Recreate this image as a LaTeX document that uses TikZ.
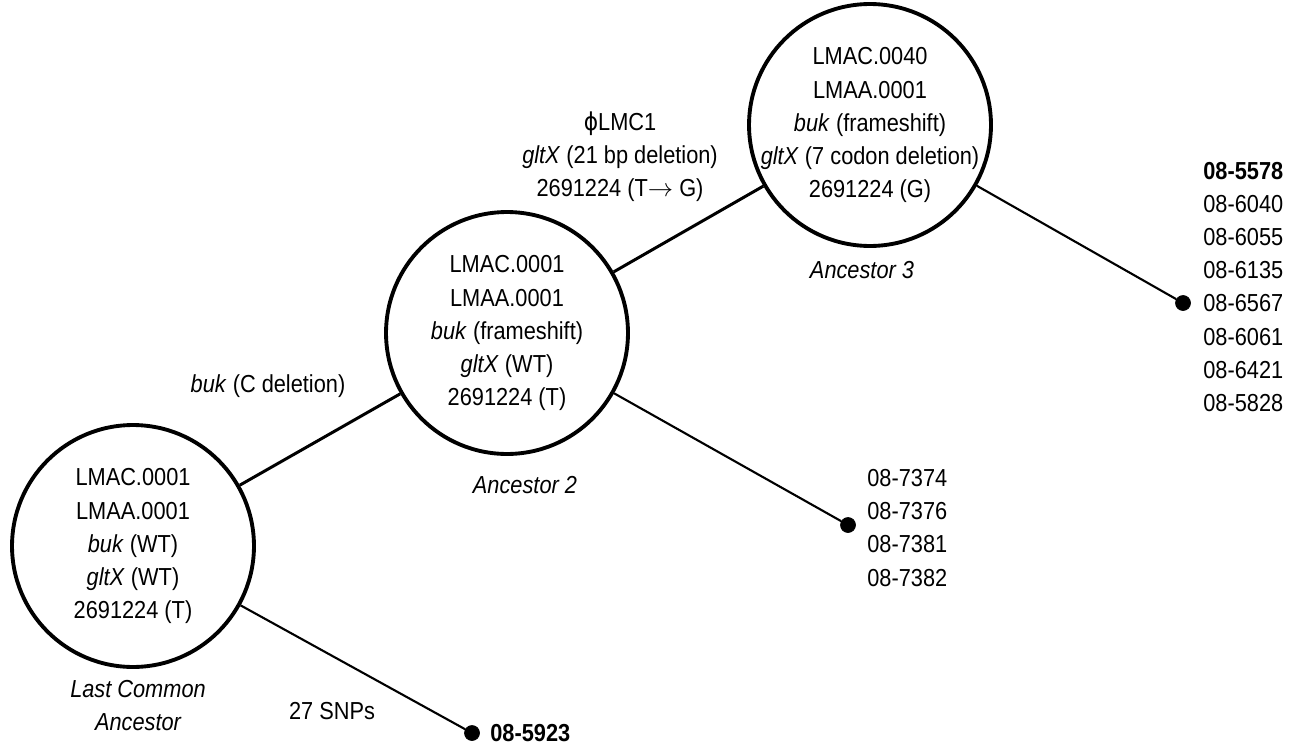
\documentclass[tikz,border=0pt]{standalone}
\usepackage{fontspec}
\setmainfont[FakeStretch=0.885]{Liberation Sans}
\newfontfamily\symfont[FakeStretch=0.885]{DejaVu Sans}
\begin{document}
\begin{tikzpicture}[x=0.02cm, y=-0.02cm]
	\tikzset{every node/.style = {font=\fontsize{14}{18.8}\selectfont},
	ancestor/.style = {draw, circle, line width=2.2pt, inner sep=0pt,
	minimum size=4.84cm},
	leaf/.style = {draw, circle, fill, inner sep=0pt, minimum size=0.3cm},
	txt/.style = {align=center, inner sep=0pt},
	caption/.style = {txt, font=\fontsize{14}{18.8}\selectfont\itshape},
	branch/.style = {line width=1.7pt},
	twig/.style = {line width=1.2pt}}
	
	\useasboundingbox (0,0) rectangle (1297,747);
	
	\node[ancestor] (lca) at (133,546) {};
	\node[ancestor] (anc2) at (507,333) {};
	\node[ancestor] (anc3) at (870,125) {};
	\node[txt] (lca_txt) at (lca)
	{LMAC.0001\\LMAA.0001\\\textit{buk} (WT)\\\textit{gltX} (WT)\\2691224 (T)};
	\node[txt] (anc2_txt) at (anc2)
	{LMAC.0001\\LMAA.0001\\\textit{buk} (frameshift)\\\textit{gltX} (WT)\\2691224 (T)};
	\node[txt] (anc3_txt) at (anc3)
	{LMAC.0040\\LMAA.0001\\\textit{buk} (frameshift)\\\textit{gltX} (7 codon deletion)\\2691224 (G)};
	
	\node[caption] (lca_name) at (138,706) {Last Common\\Ancestor};
	\node[caption] (anc2_name) at (525,485) {Ancestor 2};
	\node[caption] (anc3_name) at (862,270) {Ancestor 3};
	
	\node[leaf] (leaf1) at (472,733) {};
	\node[leaf] (leaf2) at (848,525) {};
	\node[leaf] (leaf3) at (1183,303) {};
	
	\draw[branch] (lca) -- (anc2);
	\draw[branch] (anc2) -- (anc3);
	\draw[twig] (lca) -- (leaf1);
	\draw[twig] (anc2) -- (leaf2);
	\draw[twig] (anc3) -- (leaf3);
	
	\node[txt] (buk_del) at (268,386) {\textit{buk} (C deletion)};
	\node[txt] (phage) at (620,157)
	{{\symfont ϕ}LMC1\\\textit{gltX} (21 bp deletion)\\2691224 (T$\rightarrow$ G)};
	\node[txt] (snps) at (332,711) {27 SNPs};
	
	\node[txt, anchor=west] (leaf1_txt) at (490,733) {\textbf{08-5923}};
	\node[txt, align=left, anchor=west] (leaf2_txt) at (867,528)
	{08-7374\\08-7376\\08-7381\\08-7382};
	\node[txt, align=left, anchor=west] (leaf3_txt) at (1203,287)
	{\textbf{08-5578}\\08-6040\\08-6055\\08-6135\\08-6567\\08-6061\\08-6421\\08-5828};
\end{tikzpicture}
\end{document}
